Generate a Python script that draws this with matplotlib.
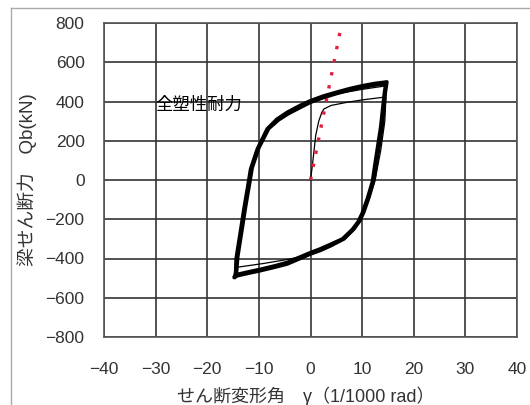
import matplotlib
matplotlib.use("Agg")
import matplotlib.pyplot as plt
from matplotlib.lines import Line2D

plt.rcParams['font.family'] = ['Liberation Sans', 'Noto Sans CJK JP']

# stable loops, thick (two cycles lying almost on top of each other)
outer_x = [-14.7, -14.5, -14.4, -13.5, -12.9, -12.2, -11.6, -10.3, -8.4, -6.5, -4.5, -2.0, 0.0,
           2.5, 5.0, 7.5, 10.0, 12.5, 14.3, 14.8,
           14.5, 13.9, 12.9, 12.3, 11.3, 10.3, 9.5, 8.4, 6.5, 3.9, 2.0, 0.0,
           -2.0, -4.5, -7.0, -9.7, -12.0, -14.2, -14.7]
outer_q = [-495, -470, -400, -250, -148, -40, 56, 158, 260, 310, 345, 380, 404,
           428, 447, 465, 480, 492, 498, 500,
           447, 277, 107, 0, -90, -165, -210, -250, -300, -335, -358, -377,
           -400, -428, -445, -462, -475, -488, -495]

second_x = [-14.5, -14.3, -14.1, -13.2, -12.6, -11.9, -11.3, -10.0, -8.1, -6.2, -4.3, -1.8, 0.0,
            2.5, 5.0, 7.5, 10.0, 12.5, 14.2, 14.6,
            14.3, 13.6, 12.6, 12.0, 11.0, 10.0, 9.2, 8.1, 6.2, 3.7, 1.8, 0.0,
            -2.0, -4.5, -7.0, -9.7, -12.0, -14.0, -14.5]
second_q = [-488, -462, -392, -242, -140, -32, 62, 164, 262, 306, 338, 372, 396,
            420, 440, 458, 472, 484, 490, 492,
            440, 270, 100, -8, -96, -170, -214, -252, -300, -330, -352, -370,
            -392, -420, -438, -455, -468, -480, -488]

# first cycle, thin
first_x = [0.0, 0.3, 0.65, 1.0, 1.6, 2.2, 2.6, 4.0, 7.1, 10.0, 14.2, 14.6,
           14.4, 13.6, 12.5, 11.3, 10.3, 8.4, 6.0, 3.9, 0.0,
           -4.5, -9.0, -14.3, -14.4, -14.2, -13.3, -12.2, -10.3, -8.4, -4.5, 0.0,
           5.0, 10.0, 14.2, 14.6, 14.3, 13.7, 12.6, 12.2]
first_q = [0, 60, 141, 226, 300, 345, 362, 380, 396, 408, 422, 420,
           300, 150, 0, -100, -170, -255, -310, -340, -380,
           -405, -425, -445, -430, -385, -200, -40, 158, 260, 345, 404,
           438, 462, 478, 480, 400, 250, 60, 0]

# elastic line (red dotted)
elastic_x = [0.0, 5.8]
elastic_q = [0, 765]

xticks = [-40, -30, -20, -10, 0, 10, 20, 30, 40]
yticks = [-800, -600, -400, -200, 0, 200, 400, 600, 800]

fig = plt.figure(figsize=(5.3, 4.05), dpi=100)
ax = fig.add_axes([104 / 530, 1 - 337 / 405, 413 / 530, 314 / 405])

ax.plot(first_x, first_q, color="black", lw=0.9, zorder=3)
ax.plot(elastic_x, elastic_q, color="#e0203c", lw=2.4, linestyle=(0, (1, 3)), zorder=4)
ax.plot(outer_x, outer_q, color="black", lw=2.6, zorder=5, solid_joinstyle="round")
ax.plot(second_x, second_q, color="black", lw=2.6, zorder=5, solid_joinstyle="round")

ax.text(-30, 382, "全塑性耐力", fontsize=12.5, va="center", ha="left",
        family=['Noto Sans CJK JP'], zorder=6)

ax.set_xlim(-40, 40)
ax.set_ylim(-800, 800)
ax.set_xticks(xticks)
ax.set_yticks(yticks)
ax.set_xticklabels([str(v).replace("-", "−") for v in xticks])
ax.grid(True, color="#333333", lw=1.2)
ax.set_axisbelow(True)
ax.tick_params(length=0, labelsize=12.5, labelcolor="#333333")
ax.tick_params(axis="x", pad=18)
ax.tick_params(axis="y", pad=14)
for s in ax.spines.values():
    s.set_color("#555555")
    s.set_linewidth(1.2)

fig.text(306 / 530, 1 - 396 / 405, "せん断変形角　γ（1/1000 rad）", fontsize=13,
         color="#333333", ha="center", va="center")
ax.set_ylabel("梁せん断力　Qb(kN)", fontsize=13.5, color="#333333", labelpad=6)

# chart-area frame (top and left edges visible)
fig.add_artist(Line2D([11 / 530, 1], [1 - 8 / 405, 1 - 8 / 405], color="#aaaaaa", lw=1))
fig.add_artist(Line2D([11 / 530, 11 / 530], [0, 1 - 8 / 405], color="#aaaaaa", lw=1))

fig.savefig("out.png", dpi=100)
